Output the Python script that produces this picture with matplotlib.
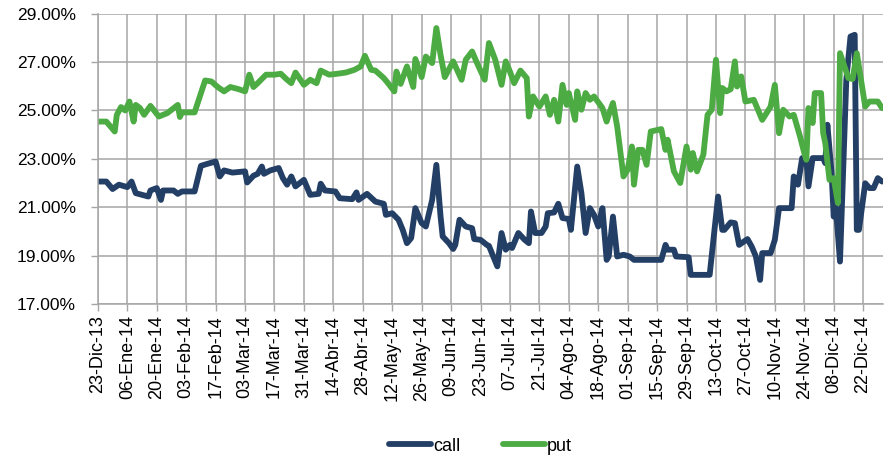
import numpy as np
import matplotlib
matplotlib.use("Agg")
import matplotlib.pyplot as plt
import matplotlib.dates as mdates
from matplotlib.ticker import FuncFormatter

# days counted from 23-Dic-13
call_days = [0, 4, 7, 10, 14, 16, 18, 21, 24, 25, 28, 30, 31, 36, 38, 40, 46, 49, 52, 56,
             58, 60, 64, 70, 71, 74, 76, 78, 79, 82, 86, 88, 90, 92, 94, 98, 101, 105, 106, 108,
             113, 115, 121, 123, 124, 128, 132, 136, 137, 140, 143, 145, 147, 149, 151, 154, 156, 159, 161, 163,
             164, 167, 169, 170, 172, 175, 178, 179, 182, 185, 186, 190, 192, 194, 196, 197, 200, 203, 205, 206,
             208, 211, 213, 214, 217, 219, 221, 224, 225, 228, 230, 232, 234, 236, 238, 240, 242, 243, 245, 247,
             250, 253, 255, 268, 270, 271, 274, 275, 281, 282, 291, 295, 297, 298, 301, 303, 305, 309, 311, 313,
             315, 316, 320, 322, 324, 330, 331, 333, 335, 337, 338, 340, 345, 346, 347, 349, 350, 351, 353, 354,
             356, 358, 360, 361, 362, 365, 367, 369, 371, 373]
call_vals = [22.06, 22.06, 21.75, 21.93, 21.83, 22.06, 21.58, 21.51, 21.44, 21.69, 21.79, 21.30, 21.69, 21.69, 21.55, 21.65, 21.65, 22.71, 22.79, 22.89,
             22.27, 22.52, 22.43, 22.48, 22.02, 22.30, 22.38, 22.68, 22.38, 22.52, 22.62, 22.20, 21.93, 22.27, 21.86, 22.13, 21.51, 21.55, 21.97, 21.69,
             21.65, 21.37, 21.33, 21.61, 21.30, 21.55, 21.23, 21.14, 20.68, 20.75, 20.48, 20.06, 19.51, 19.72, 20.96, 20.34, 20.20, 21.30, 22.75, 20.61,
             19.79, 19.51, 19.27, 19.44, 20.48, 20.20, 20.13, 19.68, 19.65, 19.44, 19.40, 18.55, 19.93, 19.24, 19.44, 19.31, 19.93, 19.65, 19.51, 20.82,
             19.93, 19.93, 20.20, 20.75, 20.78, 21.14, 20.55, 20.51, 20.06, 22.68, 21.58, 19.93, 20.96, 20.68, 20.20, 20.96, 18.82, 18.96, 20.61, 18.96,
             19.03, 18.96, 18.82, 18.82, 19.44, 19.24, 19.24, 18.96, 18.93, 18.20, 18.20, 21.44, 20.06, 20.06, 20.37, 20.34, 19.44, 19.68, 19.37, 18.96,
             17.99, 19.10, 19.10, 19.65, 20.96, 20.96, 22.27, 21.93, 23.03, 22.99, 21.86, 23.03, 23.03, 22.82, 24.41, 22.41, 20.61, 21.03, 18.75, 21.30,
             26.27, 28.06, 28.13, 20.06, 20.06, 21.99, 21.79, 21.79, 22.20, 22.06]

put_days = [0, 4, 8, 9, 11, 13, 15, 17, 18, 20, 22, 25, 29, 33, 38, 39, 40, 46, 51, 54,
            57, 60, 63, 67, 70, 72, 74, 76, 80, 84, 87, 90, 92, 94, 98, 101, 104, 106, 110, 114,
            118, 122, 125, 127, 130, 132, 136, 138, 141, 142, 144, 147, 150, 151, 154, 156, 159, 161, 163, 165,
            169, 173, 175, 178, 180, 184, 186, 189, 192, 194, 196, 198, 201, 204, 205, 207, 210, 213, 215, 217,
            219, 221, 223, 224, 227, 228, 230, 232, 234, 236, 240, 242, 243, 245, 247, 250, 252, 254, 255, 257,
            259, 261, 263, 268, 270, 271, 274, 277, 280, 282, 283, 285, 288, 290, 292, 294, 296, 297, 299, 301,
            303, 304, 306, 308, 312, 316, 320, 322, 324, 326, 329, 331, 334, 336, 337, 338, 340, 341, 344, 345,
            346, 348, 350, 352, 353, 357, 359, 361, 365, 367, 371, 373]
put_vals = [24.54, 24.54, 24.13, 24.82, 25.14, 25.00, 25.37, 24.54, 25.23, 25.10, 24.82, 25.19, 24.75, 24.89, 25.23, 24.73, 24.92, 24.92, 26.24, 26.20,
            25.97, 25.79, 25.97, 25.88, 25.79, 26.48, 25.97, 26.13, 26.48, 26.48, 26.52, 26.27, 26.13, 26.57, 26.06, 26.27, 26.13, 26.65, 26.48, 26.52,
            26.57, 26.68, 26.82, 27.26, 26.68, 26.65, 26.34, 26.13, 25.79, 26.61, 26.10, 26.82, 25.97, 27.13, 26.38, 27.23, 26.96, 28.41, 27.30, 26.38,
            27.03, 26.27, 27.10, 27.44, 27.03, 26.27, 27.79, 27.10, 26.06, 27.03, 26.61, 26.13, 26.65, 26.34, 24.75, 25.58, 25.16, 25.58, 24.82, 25.44,
            24.54, 26.06, 25.23, 25.72, 24.61, 25.79, 25.03, 25.72, 25.44, 25.58, 25.10, 24.54, 24.82, 25.31, 24.34, 22.27, 22.55, 23.51, 21.93, 23.37,
            23.37, 22.75, 24.13, 24.23, 23.37, 23.79, 22.48, 22.00, 23.51, 22.55, 23.24, 22.48, 23.17, 24.82, 25.03, 27.10, 24.89, 25.93, 25.79, 25.88,
            27.03, 25.99, 26.41, 25.37, 25.44, 24.61, 25.16, 26.06, 24.06, 25.03, 24.75, 24.82, 23.92, 23.24, 22.96, 25.10, 24.48, 25.72, 25.72, 24.06,
            23.65, 22.13, 22.20, 21.17, 27.37, 26.34, 26.30, 27.37, 25.16, 25.37, 25.37, 25.10]

y_ticks = [17, 19, 21, 23, 25, 27, 29]
months_es = ["Ene", "Feb", "Mar", "Abr", "May", "Jun", "Jul", "Ago", "Sep", "Oct", "Nov", "Dic"]

assert len(call_days) == len(call_vals)
assert len(put_days) == len(put_vals)

start = np.datetime64("2013-12-23")
call_dates = start + np.array(call_days, dtype="timedelta64[D]")
put_dates = start + np.array(put_days, dtype="timedelta64[D]")

plt.rcParams["font.family"] = ["Liberation Sans", "DejaVu Sans"]
grey = "#a6a6a6"

fig = plt.figure(figsize=(8.9, 4.59), dpi=100)
ax = fig.add_axes([0.110, 0.338, 0.882, 0.632])

ax.plot(call_dates, call_vals, color="#243f66", lw=4.2, label="call",
        solid_joinstyle="round", solid_capstyle="round")
ax.plot(put_dates, put_vals, color="#4cab42", lw=4.2, label="put",
        solid_joinstyle="round", solid_capstyle="round")

x0 = mdates.date2num(start)
ax.set_xlim(x0, x0 + 373.4)
ax.set_ylim(17, 29)
ax.set_yticks(y_ticks)
ax.yaxis.set_major_formatter(FuncFormatter(lambda v, p: f"{v:.2f}%"))

ticks = [x0 + 14 * i for i in range(27)]
ax.set_xticks(ticks)


def fmt_date(v, pos):
    d = mdates.num2date(v)
    return f"{d.day:02d}-{months_es[d.month - 1]}-{d.year % 100:02d}"


ax.xaxis.set_major_formatter(FuncFormatter(fmt_date))
ax.tick_params(axis="x", rotation=90, labelsize=13, length=5, width=1, color=grey, pad=3)
ax.tick_params(axis="y", labelsize=12.5, length=5, width=1, color=grey, pad=11)

ax.grid(True, color=grey, lw=1.1)
ax.set_axisbelow(True)
for s in ["top", "right"]:
    ax.spines[s].set_visible(False)
for s in ["left", "bottom"]:
    ax.spines[s].set_color(grey)
    ax.spines[s].set_linewidth(1.1)

fig.legend(loc="center", bbox_to_anchor=(0.54, 0.028), ncol=2, frameon=False,
           fontsize=13, handlelength=2.3, columnspacing=2.4, handletextpad=0.1)

fig.savefig("out.png", dpi=100)
